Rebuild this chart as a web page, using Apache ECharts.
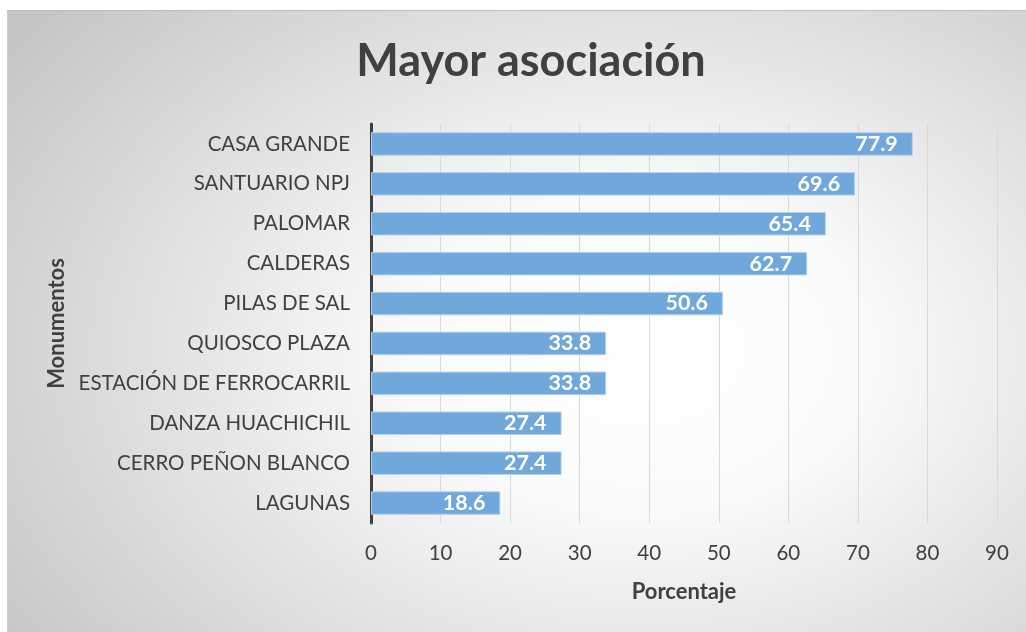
<!DOCTYPE html>
<html>
<head>
<meta charset="utf-8">
<script src="https://cdn.jsdelivr.net/npm/echarts@6/dist/echarts.min.js"></script>
<style>
  html, body { margin: 0; padding: 0; background: #fff; }
  #frame {
    position: absolute; left: 7px; top: 10px; width: 1019px; height: 622px;
    border-top: 1px solid #bdbdbd; border-left: 1px solid #d0d0d0;
    box-sizing: border-box;
    background: radial-gradient(ellipse 75% 85% at 62% 55%, #ffffff 0%, #fafafa 30%, #c6c6c6 100%);
  }
  #chart { width: 100%; height: 100%; }
</style>
</head>
<body>
<div id="frame"><div id="chart"></div></div>
<script>
// data
const monumentos = ['CASA GRANDE', 'SANTUARIO NPJ', 'PALOMAR', 'CALDERAS', 'PILAS DE SAL',
  'QUIOSCO PLAZA', 'ESTACIÓN DE FERROCARRIL', 'DANZA HUACHICHIL', 'CERRO PEÑON BLANCO', 'LAGUNAS'];
const porcentaje = [77.9, 69.6, 65.4, 62.7, 50.6, 33.8, 33.8, 27.4, 27.4, 18.6];

const font = 'Lato, "Open Sans", sans-serif';
const chart = echarts.init(document.getElementById('chart'), null, { renderer: 'canvas' });

chart.setOption({
  animation: false,
  backgroundColor: 'transparent',
  textStyle: { fontFamily: font },
  graphic: [{
    type: 'text', x: 523, y: 28,
    style: { text: 'Mayor asociación', font: 'bold 45px ' + font, fill: '#404040', textAlign: 'center' }
  }],
  grid: { left: 363, right: 29, top: 113, bottom: 109 },
  xAxis: {
    type: 'value', min: 0, max: 90, interval: 10,
    name: 'Porcentaje', nameLocation: 'middle', nameGap: 58,
    nameTextStyle: { fontSize: 22, fontWeight: 'bold', color: '#404040', fontFamily: font },
    axisLine: { show: false }, axisTick: { show: false },
    axisLabel: { fontSize: 20.5, color: '#404040', margin: 20, fontFamily: font },
    splitLine: { lineStyle: { color: '#d9d9d9', width: 1 } }
  },
  yAxis: {
    type: 'category', inverse: true, data: monumentos,
    name: 'Monumentos', nameLocation: 'middle', nameGap: 299, nameRotate: 90,
    nameTextStyle: { fontSize: 22, fontWeight: 'bold', color: '#404040', fontFamily: font },
    axisLine: { show: true, lineStyle: { color: '#404040', width: 3 } },
    axisTick: { show: false },
    axisLabel: { fontSize: 20.5, color: '#404040', margin: 21, fontFamily: font }
  },
  series: [{
    type: 'bar', data: porcentaje, barWidth: '59%',
    itemStyle: { color: '#70a8dc', borderColor: '#b4d2ee', borderWidth: 1 },
    label: {
      show: true, position: 'insideRight', distance: 15,
      color: '#fff', fontWeight: 'bold', fontSize: 21.5, fontFamily: font
    }
  }]
});
</script>
</body>
</html>
